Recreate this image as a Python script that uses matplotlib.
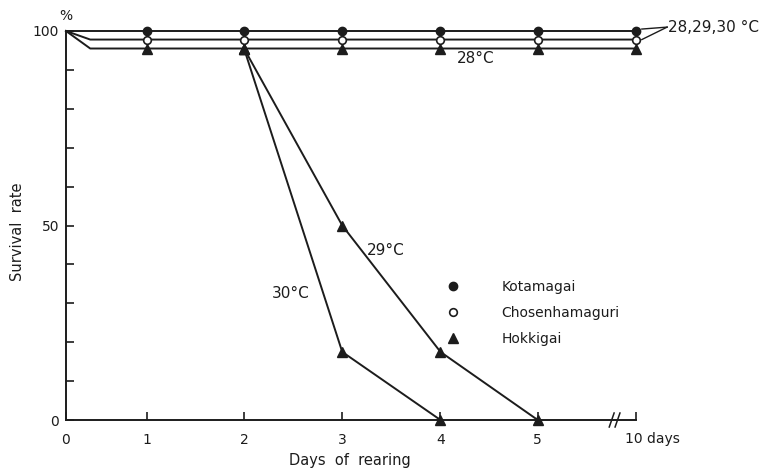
import numpy as np
import matplotlib
matplotlib.use("Agg")
import matplotlib.pyplot as plt
from matplotlib.lines import Line2D
from matplotlib.transforms import ScaledTranslation

# day values on the axis and where they sit (axis is broken between 5 and 10)
day_ticks = [0, 1, 2, 3, 4, 5, 10]
tick_pos = [0, 0.83, 1.83, 2.84, 3.85, 4.85, 5.86]

def xp(days):
    return np.interp(days, day_ticks, tick_pos)

# Kotamagai, Chosenhamaguri: same curve at 28, 29, 30 C
kota_days = [0, 1, 2, 3, 4, 5, 10]
kota_surv = [100, 100, 100, 100, 100, 100, 100]
chos_days = [0, 0.3, 1, 2, 3, 4, 5, 10]
chos_surv = [100, 97.8, 97.8, 97.8, 97.8, 97.8, 97.8, 97.8]

# Hokkigai
hok28_days = [0, 0.3, 1, 2, 3, 4, 5, 10]
hok28_surv = [100, 95.5, 95.5, 95.5, 95.5, 95.5, 95.5, 95.5]
hok29_days = [2, 3, 4, 5]
hok29_surv = [95.5, 50, 17.5, 0]
hok30_days = [2, 3, 4]
hok30_surv = [95.5, 17.5, 0]

ink = "#1c1c1c"
lw = 1.4

fig = plt.figure(figsize=(7.65, 4.68), dpi=100)
ax = fig.add_axes([66/765, 1 - 420/468, 570/765, 389/468])

kw = dict(color=ink, lw=lw, clip_on=False)
ax.plot(xp(kota_days), kota_surv, marker="o", ms=6, mfc=ink, mec=ink,
        markevery=slice(1, None), **kw)
ax.plot(xp(chos_days), chos_surv, marker="o", ms=5.5, mfc="white", mec=ink,
        mew=1.2, markevery=slice(2, None), **kw)
ax.plot(xp(hok28_days), hok28_surv, marker="^", ms=6.5, mfc=ink, mec=ink,
        markevery=slice(2, None), **kw)
ax.plot(xp(hok29_days), hok29_surv, marker="^", ms=6.5, mfc=ink, mec=ink, **kw)
ax.plot(xp(hok30_days), hok30_surv, marker="^", ms=6.5, mfc=ink, mec=ink, **kw)

ax.set_xlim(0, tick_pos[-1])
ax.set_ylim(0, 100)

for s in ["top", "right"]:
    ax.spines[s].set_visible(False)
for s in ["left", "bottom"]:
    ax.spines[s].set_linewidth(lw)
    ax.spines[s].set_color(ink)

ax.set_xticks(tick_pos)
ax.set_xticklabels([str(d) for d in day_ticks[:-1]] + ["10 days"])
ax.set_yticks(np.arange(0, 101, 10))
ax.set_yticklabels(["0", "", "", "", "", "50", "", "", "", "", "100"])
ax.tick_params(direction="in", length=6, width=1.2, color=ink,
               labelsize=10, labelcolor=ink)
ax.tick_params(axis="x", pad=9)
ax.tick_params(axis="y", pad=5)
last = ax.get_xticklabels()[-1]
last.set_horizontalalignment("left")
last.set_transform(last.get_transform()
                   + ScaledTranslation(-11/100, 0, fig.dpi_scale_trans))

# axis break on the day axis
bx = 5.64
for dx in (-0.03, 0.03):
    ax.plot([bx + dx - 0.025, bx + dx + 0.025], [-1.8, 1.8], color=ink,
            lw=1.1, clip_on=False)

ax.text(0, 102, "%", ha="center", va="bottom", fontsize=10, color=ink)
ax.set_ylabel("Survival  rate", fontsize=10.5, color=ink)
ax.yaxis.set_label_coords(-0.072, 0.483)
ax.set_xlabel("Days  of  rearing", fontsize=10.5, color=ink, va="center")
ax.xaxis.set_label_coords(0.498, -0.105)

# temperature notes
ax.plot([5.92, 6.18], [100.5, 101], color=ink, lw=1, clip_on=False)
ax.plot([5.92, 6.18], [97.8, 101], color=ink, lw=1, clip_on=False)
ax.text(6.19, 101, "28,29,30 °C", fontsize=11, va="center", ha="left",
        color=ink)
ax.text(4.21, 93, "28°C", fontsize=11, va="center", ha="center", color=ink)
ax.text(3.29, 43.7, "29°C", fontsize=11, va="center", ha="center", color=ink)
ax.text(2.31, 32.6, "30°C", fontsize=11, va="center", ha="center", color=ink)

handles = [
    Line2D([], [], ls="none", marker="o", ms=6, mfc=ink, mec=ink),
    Line2D([], [], ls="none", marker="o", ms=5.5, mfc="white", mec=ink, mew=1.2),
    Line2D([], [], ls="none", marker="^", ms=6.5, mfc=ink, mec=ink),
]
fig.legend(handles, ["Kotamagai", "Chosenhamaguri", "Hokkigai"],
           loc="upper left", bbox_to_anchor=(446/765, 1 - 280/468),
           frameon=False, fontsize=10, handlelength=1, handletextpad=3.0,
           labelspacing=0.85, borderpad=0, borderaxespad=0,
           labelcolor=ink)

fig.savefig("out.png", dpi=100, facecolor="white")
